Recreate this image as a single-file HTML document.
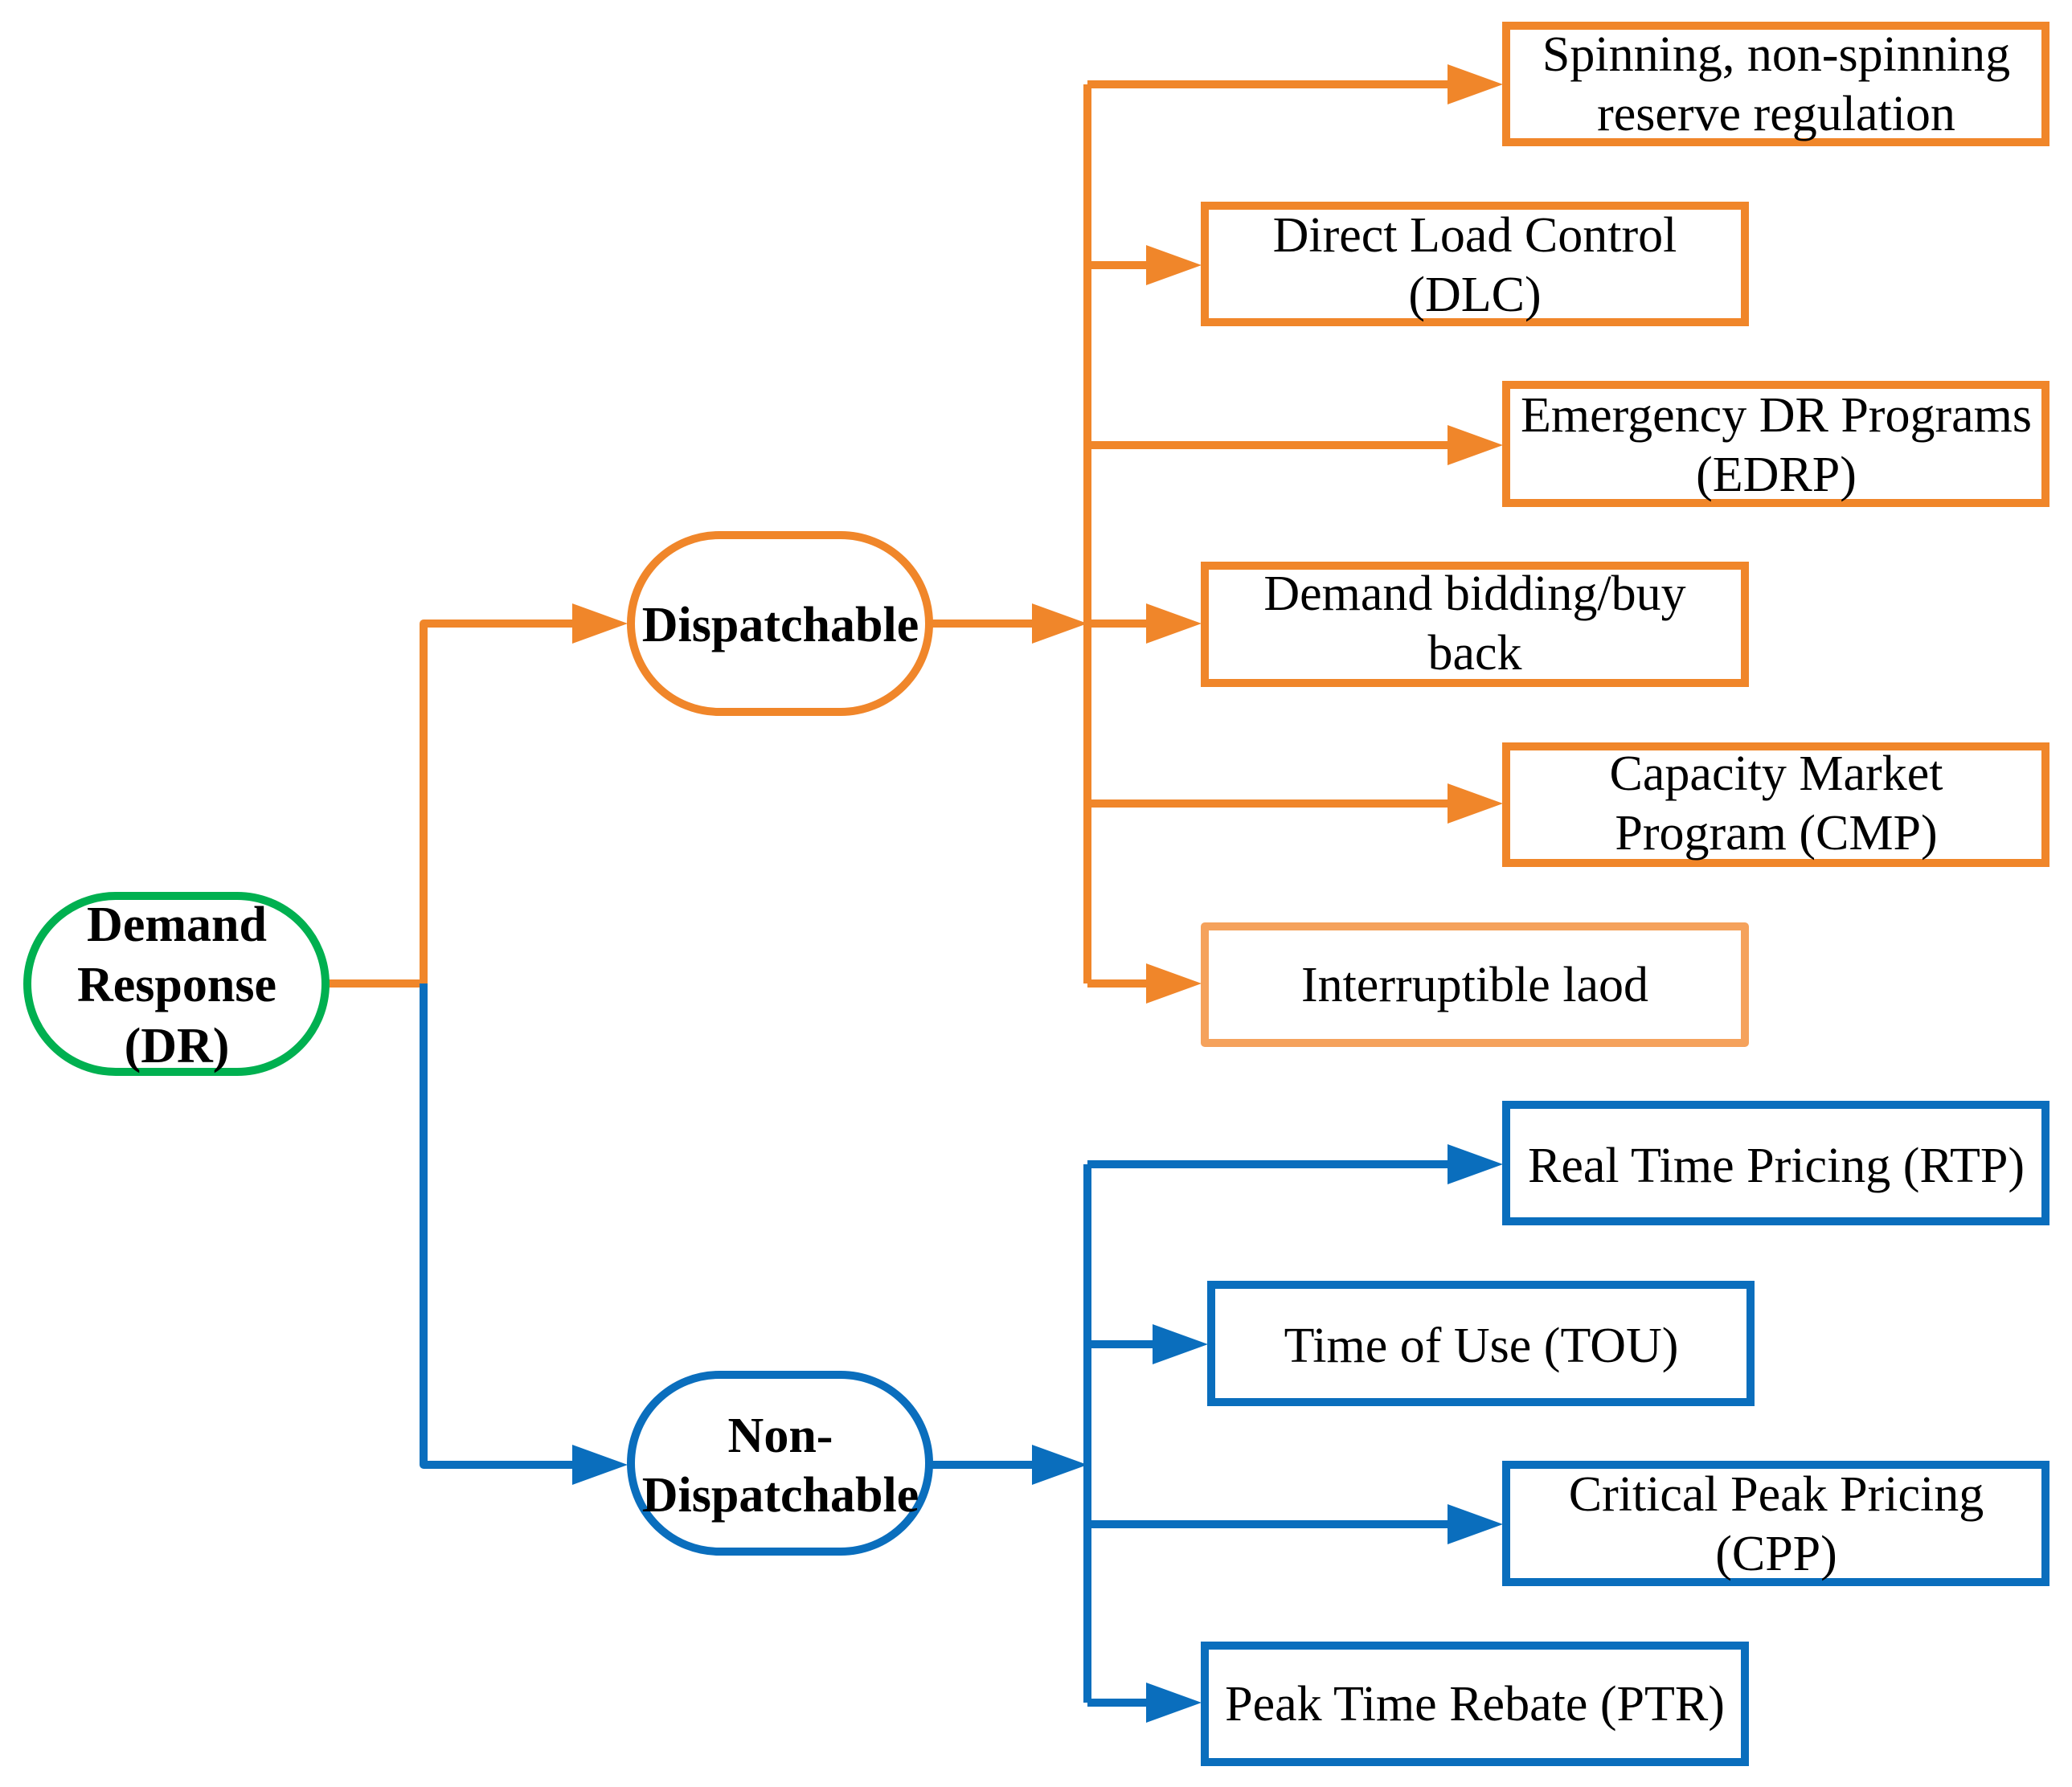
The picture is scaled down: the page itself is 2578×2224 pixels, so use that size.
<!DOCTYPE html>
<html><head><meta charset="utf-8"><style>
html,body{margin:0;padding:0;background:#fff;}
svg{display:block;}
text{font-family:"Liberation Serif",serif;font-size:62px;fill:#000;}
.b{font-weight:bold;}
</style></head><body>
<svg width="2578" height="2224" viewBox="0 0 2578 2224" xmlns="http://www.w3.org/2000/svg">
<g fill="none" stroke-width="10" stroke-linejoin="round">
<!-- orange connectors -->
<g stroke="#F0862A">
<polyline points="409,1224 527,1224 527,776 712,776"/>
<line x1="1160" y1="776" x2="1284" y2="776"/>
<line x1="1353" y1="105" x2="1353" y2="1224"/>
<line x1="1353" y1="105" x2="1801" y2="105"/>
<line x1="1353" y1="330" x2="1426" y2="330"/>
<line x1="1353" y1="554" x2="1801" y2="554"/>
<line x1="1353" y1="776" x2="1426" y2="776"/>
<line x1="1353" y1="1000" x2="1801" y2="1000"/>
<line x1="1353" y1="1224" x2="1426" y2="1224"/>
</g>
<g stroke="#0A6EBD">
<polyline points="527,1224 527,1823 712,1823"/>
<line x1="1160" y1="1823" x2="1284" y2="1823"/>
<line x1="1353" y1="1449" x2="1353" y2="2119"/>
<line x1="1353" y1="1449" x2="1801" y2="1449"/>
<line x1="1353" y1="1673" x2="1434" y2="1673"/>
<line x1="1353" y1="1897" x2="1801" y2="1897"/>
<line x1="1353" y1="2119" x2="1426" y2="2119"/>
</g>
<!-- nodes -->
<rect x="34" y="1115" width="371" height="219" rx="110" ry="110" stroke="#00B050"/>
<rect x="785" y="666" width="371" height="220" rx="110" ry="110" stroke="#F0862A"/>
<rect x="785" y="1711" width="371" height="220" rx="110" ry="110" stroke="#0A6EBD"/>
<g stroke="#F0862A" stroke-linejoin="miter">
<rect x="1874" y="32" width="671" height="145"/>
<rect x="1499" y="256" width="672" height="145"/>
<rect x="1874" y="479" width="671" height="147"/>
<rect x="1499" y="704" width="672" height="146"/>
<rect x="1874" y="929" width="671" height="145"/>
</g>
<rect x="1499" y="1153" width="672" height="145" stroke="#F5A25C"/>
<g stroke="#0A6EBD" stroke-linejoin="miter">
<rect x="1874" y="1375" width="671" height="145"/>
<rect x="1507" y="1599" width="671" height="146"/>
<rect x="1874" y="1823" width="671" height="146"/>
<rect x="1499" y="2048" width="672" height="145"/>
</g>
</g>
<!-- arrowheads -->
<g fill="#F0862A">
<polygon points="781,776 712,751 712,801"/>
<polygon points="1353,776 1284,751 1284,801"/>
<polygon points="1870,105 1801,80 1801,130"/>
<polygon points="1495,330 1426,305 1426,355"/>
<polygon points="1870,554 1801,529 1801,579"/>
<polygon points="1495,776 1426,751 1426,801"/>
<polygon points="1870,1000 1801,975 1801,1025"/>
<polygon points="1495,1224 1426,1199 1426,1249"/>
</g>
<g fill="#0A6EBD">
<polygon points="781,1823 712,1798 712,1848"/>
<polygon points="1353,1823 1284,1798 1284,1848"/>
<polygon points="1870,1449 1801,1424 1801,1474"/>
<polygon points="1503,1673 1434,1648 1434,1698"/>
<polygon points="1870,1897 1801,1872 1801,1922"/>
<polygon points="1495,2119 1426,2094 1426,2144"/>
</g>
<!-- text -->
<g text-anchor="middle">
<text class="b" x="220" y="1171">Demand</text>
<text class="b" x="220" y="1246">Response</text>
<text class="b" x="220" y="1322">(DR)</text>
<text class="b" x="971" y="798">Dispatchable</text>
<text class="b" x="971" y="1807">Non-</text>
<text class="b" x="971" y="1881">Dispatchable</text>
<text x="2210" y="88">Spinning, non-spinning</text>
<text x="2210" y="162">reserve regulation</text>
<text x="1835" y="313">Direct Load Control</text>
<text x="1835" y="387">(DLC)</text>
<text x="2210" y="537">Emergency DR Programs</text>
<text x="2210" y="611">(EDRP)</text>
<text x="1835" y="759">Demand bidding/buy</text>
<text x="1835" y="833">back</text>
<text x="2210" y="983">Capacity Market</text>
<text x="2210" y="1057">Program (CMP)</text>
<text x="1835" y="1246">Interruptible laod</text>
<text x="2210" y="1471">Real Time Pricing (RTP)</text>
<text x="1843" y="1695">Time of Use (TOU)</text>
<text x="2210" y="1880">Critical Peak Pricing</text>
<text x="2210" y="1954">(CPP)</text>
<text x="1835" y="2141">Peak Time Rebate (PTR)</text>
</g>
</svg>
</body></html>
